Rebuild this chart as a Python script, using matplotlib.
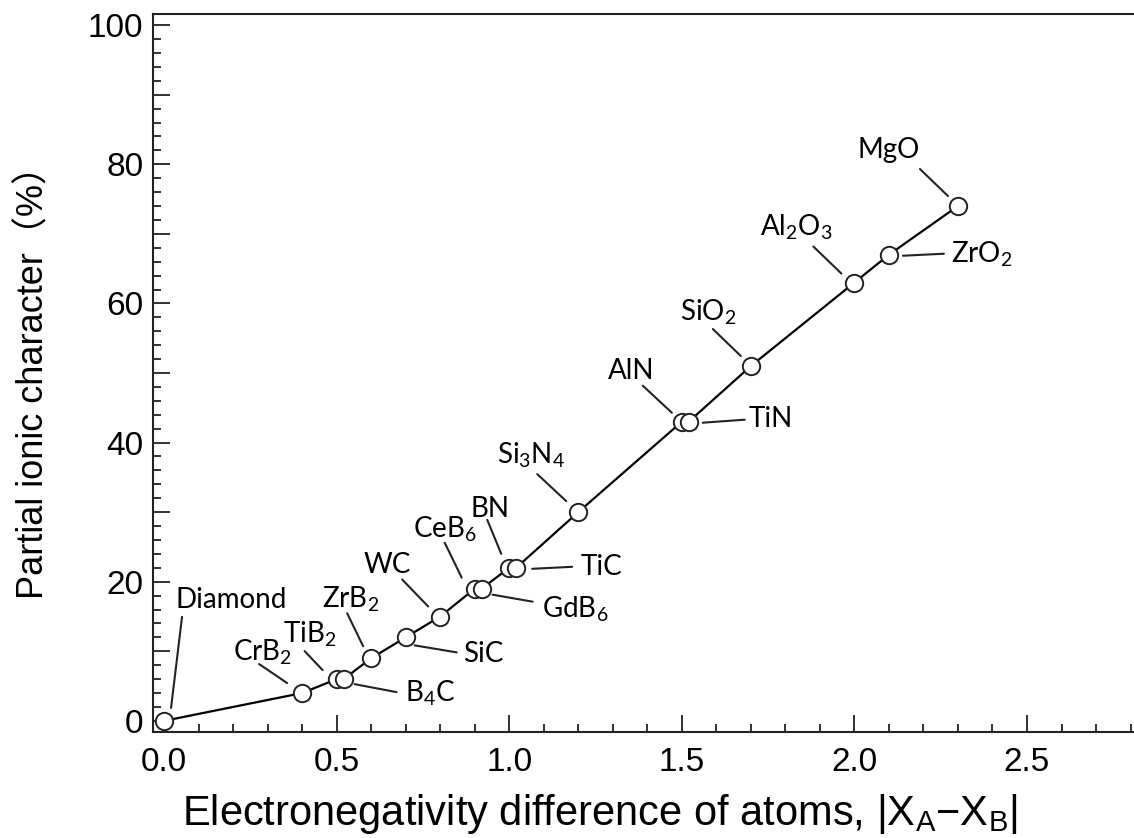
import matplotlib
matplotlib.use('Agg')
import matplotlib.pyplot as plt
from matplotlib.ticker import MultipleLocator, FuncFormatter
from matplotlib.transforms import offset_copy

plt.rcParams['font.family'] = ['Liberation Sans', 'DejaVu Sans']
plt.rcParams['mathtext.default'] = 'regular'

# data
materials = ['Diamond', 'CrB$_2$', 'TiB$_2$', 'B$_4$C', 'ZrB$_2$', 'SiC', 'WC',
             'CeB$_6$', 'GdB$_6$', 'BN', 'TiC', 'Si$_3$N$_4$', 'AlN', 'TiN',
             'SiO$_2$', 'Al$_2$O$_3$', 'ZrO$_2$', 'MgO']
en_diff = [0.0, 0.4, 0.5, 0.52, 0.6, 0.7, 0.8, 0.9, 0.92, 1.0, 1.02, 1.2,
           1.5, 1.52, 1.7, 2.0, 2.1, 2.3]
ionic = [0, 4, 6, 6, 9, 12, 15, 19, 19, 22, 22, 30, 43, 43, 51, 63, 67, 74]

# label layout in pixels relative to the point: text (left, baseline), leader start, leader end
layout = [
    ((11, 113), (18, 104), (7, 13)),
    ((-69, 33), (-43, 29), (-15, 10)),
    ((-54, 37), (-32, 28), (-14, 9)),
    ((61, -22), (11, -5), (53, -13)),
    ((-49, 51), (-24, 45), (-8, 12)),
    ((57, -25), (9, -8), (51, -15)),
    ((-77, 44), (-38, 37), (-12, 10)),
    ((-62, 51), (-30, 46), (-13, 11)),
    ((60, -29), (11, -6), (51, -13)),
    ((-39, 51), (-22, 48), (-8, 14)),
    ((64, -7), (16, -1), (56, 1)),
    ((-81, 49), (-41, 38), (-12, 11)),
    ((-74, 43), (-39, 36), (-10, 9)),
    ((60, -5), (14, -1), (56, 2)),
    ((-71, 46), (-38, 37), (-10, 10)),
    ((-94, 47), (-41, 36), (-13, 9)),
    ((62, -8), (14, -1), (55, 1)),
    ((-100, 48), (-38, 37), (-10, 10)),
]

fig = plt.figure(figsize=(11.34, 8.38), dpi=100)
ax = fig.add_axes([153 / 1134, 106 / 838, 981 / 1134, 718 / 838])

ax.plot(en_diff, ionic, '-', color='black', lw=1.6, zorder=2)
ax.plot(en_diff, ionic, 'o', ms=12.5, mfc='white', mec='#222222', mew=1.4, zorder=3)

ax.set_xlim(-0.032, 2.81)
ax.set_ylim(-1.6, 101.6)

for name, x, y, (t, l1, l2) in zip(materials, en_diff, ionic, layout):
    ax.annotate(name, (x, y), xytext=t, textcoords='offset pixels',
                ha='left', va='baseline', fontsize=20, family=['Lato', 'DejaVu Sans'])
    a = offset_copy(ax.transData, fig=fig, x=l1[0], y=l1[1], units='dots')
    b = offset_copy(ax.transData, fig=fig, x=l2[0], y=l2[1], units='dots')
    ax.annotate('', xy=(x, y), xycoords=b, xytext=(x, y), textcoords=a,
                arrowprops=dict(arrowstyle='-', lw=1.5, color='#222222',
                                shrinkA=0, shrinkB=0))

ax.spines['right'].set_visible(False)
for s in ['left', 'bottom', 'top']:
    ax.spines[s].set_linewidth(1.5)
    ax.spines[s].set_color('#222222')

ax.xaxis.set_major_locator(MultipleLocator(0.5))
ax.xaxis.set_minor_locator(MultipleLocator(0.1))
ax.xaxis.set_major_formatter(FuncFormatter(lambda v, p: f'{v:.1f}'))
ax.yaxis.set_major_locator(MultipleLocator(10))
ax.yaxis.set_minor_locator(MultipleLocator(2))
ax.yaxis.set_major_formatter(FuncFormatter(lambda v, p: f'{v:.0f}' if round(v) % 20 == 0 else ''))
ax.tick_params(which='both', direction='in', width=1.3, labelsize=24, color='#222222')
ax.tick_params(which='major', length=12)
ax.tick_params(which='minor', length=6)
ax.tick_params(axis='x', pad=11)
ax.tick_params(axis='y', pad=7)

ax.set_xlabel('Electronegativity difference of atoms, |X$_A$−X$_B$|', fontsize=30)
ax.xaxis.set_label_coords(0.456, -0.083)
ax.set_ylabel('Partial ionic character（%）', fontsize=26, labelpad=26,
              family=['Liberation Sans', 'Noto Sans CJK JP'])

plt.savefig('out.png', dpi=100)
